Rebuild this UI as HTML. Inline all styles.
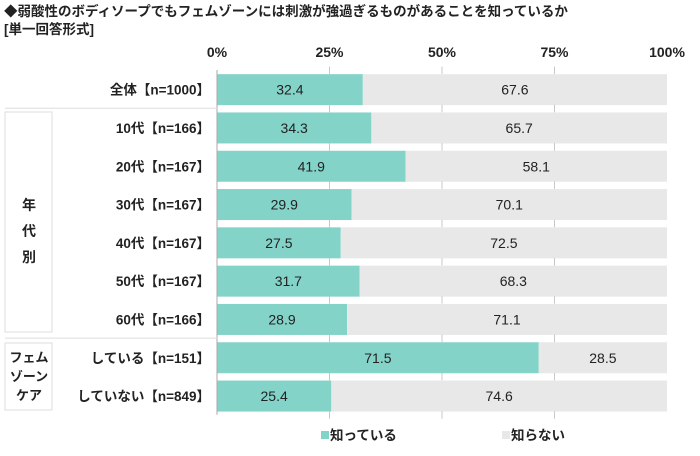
<!DOCTYPE html>
<html><head><meta charset="utf-8"><style>
body{margin:0;background:#fff;font-family:"Liberation Sans","Noto Sans CJK JP",sans-serif;}
svg text{font-family:"Liberation Sans","Noto Sans CJK JP",sans-serif;fill:#222;}
</style></head><body>
<svg id="c" width="700" height="451">
<text x="4" y="16" font-size="13.5" font-weight="bold">◆弱酸性のボディソープでもフェムゾーンには刺激が強過ぎるものがあることを知っているか</text>
<text x="4" y="34" font-size="13.5" font-weight="bold">[単一回答形式]</text>
<g id="g"></g>
</svg>
<script>
const categories=["全体【n=1000】","10代【n=166】","20代【n=167】","30代【n=167】","40代【n=167】","50代【n=167】","60代【n=166】","している【n=151】","していない【n=849】"];
const knowValues=[32.4,34.3,41.9,29.9,27.5,31.7,28.9,71.5,25.4];
const notKnowValues=[67.6,65.7,58.1,70.1,72.5,68.3,71.1,28.5,74.6];
const tickValues=[0,25,50,75,100];
const tickLabels=["0%","25%","50%","75%","100%"];
const NS="http://www.w3.org/2000/svg";
const g=document.getElementById('g');
const x0=217,x1=667,top0=70,pitch=38.3,bh=31;
const xs=v=>x0+(x1-x0)*v/100;
const ys=i=>top0+i*pitch+(pitch-bh)/2+0.5;
function mk(t,a,p){const e=document.createElementNS(NS,t);for(const k in a)e.setAttribute(k,a[k]);(p||g).appendChild(e);return e;}
tickValues.forEach((v,i)=>{
 const t=mk('text',{x:xs(v),y:57,'font-size':14,'font-weight':'bold','text-anchor':'middle'});t.textContent=tickLabels[i];
 
 
});
categories.forEach((c,i)=>{
 const y=ys(i);
 const a=mk('rect',{x:xs(0),y:y,width:xs(knowValues[i])-xs(0),height:bh,fill:'#84d3c9'});
 
 
 const b=mk('rect',{x:xs(knowValues[i]),y:y,width:xs(knowValues[i]+notKnowValues[i])-xs(knowValues[i]),height:bh,fill:'#e8e8e8'});
 
 
 const l=mk('text',{x:210,y:y+bh/2+5,'font-size':13.5,'font-weight':'bold','text-anchor':'end'});l.textContent=c;
 
 
 const t1=mk('text',{x:(xs(0)+xs(knowValues[i]))/2,y:y+bh/2+5,'font-size':14,'text-anchor':'middle'});t1.textContent=knowValues[i].toFixed(1);
 
 
 const t2=mk('text',{x:(xs(knowValues[i])+xs(100))/2,y:y+bh/2+5,'font-size':14,'text-anchor':'middle'});t2.textContent=notKnowValues[i].toFixed(1);
 
 
});
[25,50,75].forEach(v=>{for(let i=0;i<=categories.length;i++){const yy=top0+i*pitch;const l=mk('line',{x1:xs(v),x2:xs(v),y1:yy-3.5,y2:yy+4,stroke:'#c8c8c8'});}});
const ax=mk('line',{x1:x0,x2:x0,y1:top0,y2:top0+pitch*categories.length,stroke:'#aaa'});


[1,7].forEach(i=>{const l=mk('line',{x1:5,x2:x0,y1:top0+i*pitch,y2:top0+i*pitch,stroke:'#ddd'});});
const bx1=mk('rect',{x:5,y:112,width:47,height:220,fill:'none',stroke:'#ddd'});


[['年',210],['代',236],['別',262]].forEach(([s,y])=>{const t=mk('text',{x:29,y:y,'font-size':14,'font-weight':'bold','text-anchor':'middle'});t.textContent=s;});
const bx2=mk('rect',{x:5,y:343,width:47,height:67,fill:'none',stroke:'#ddd'});


[['フェム',362],['ゾーン',381],['ケア',400]].forEach(([s,y])=>{const t=mk('text',{x:29,y:y,'font-size':13,'font-weight':'bold','text-anchor':'middle'});t.textContent=s;});
[[321,'#84d3c9','知っている','legend-know'],[502,'#e8e8e8','知らない','legend-not-know']].forEach(([x,c,s,n])=>{
 const r=mk('rect',{x:x,y:431,width:8,height:8,fill:c});
 
 
 const t=mk('text',{x:x+9,y:440,'font-size':13.5,'font-weight':'bold'});t.textContent=s;
 
 
});
</script>
</body></html>
